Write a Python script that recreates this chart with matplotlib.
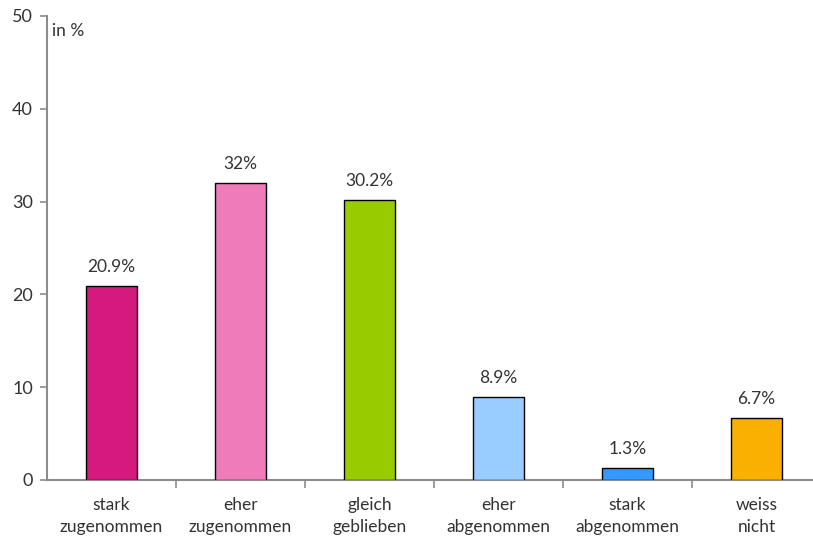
import matplotlib.pyplot as plt

categories = ['stark\nzugenommen', 'eher\nzugenommen', 'gleich\ngeblieben',
              'eher\nabgenommen', 'stark\nabgenommen', 'weiss\nnicht']
values = [20.9, 32, 30.2, 8.9, 1.3, 6.7]
labels = ['20.9%', '32%', '30.2%', '8.9%', '1.3%', '6.7%']
colors = ['#D4197F', '#F07BBB', '#99CC00', '#99CCFF', '#3399FF', '#F9B000']

plt.rcParams['font.family'] = ['Lato', 'DejaVu Sans']
grey = '#8C8C8C'
text_col = '#333333'

fig = plt.figure(figsize=(8.13, 5.38), dpi=100)
ax = fig.add_axes([47 / 813, 58 / 538, 774 / 813, 464 / 538])

x = range(len(values))
ax.bar(x, values, width=0.4, color=colors, edgecolor='black', linewidth=1, zorder=3)
for xi, v, lab in zip(x, values, labels):
    ax.text(xi, v + 1.2, lab, ha='center', va='bottom', fontsize=12.5, color=text_col)

ax.set_xlim(-0.5, len(values) - 0.5)
ax.set_ylim(0, 50)
ax.set_yticks(range(0, 51, 10))
ax.tick_params(axis='y', labelsize=13, colors=grey, labelcolor=text_col, length=5, width=1.2, pad=5)

# x ticks sit on the category boundaries, labels at the centres
ax.set_xticks([i + 0.5 for i in range(len(values) - 1)])
ax.set_xticklabels([])
ax.set_xticks(list(x), minor=True)
ax.set_xticklabels(categories, minor=True, fontsize=12.5, color=text_col, linespacing=1.45)
ax.tick_params(axis='x', which='major', length=6, width=1.2, colors=grey)
ax.tick_params(axis='x', which='minor', length=0, pad=12)

for side in ['top', 'right']:
    ax.spines[side].set_visible(False)
for side in ['left', 'bottom']:
    ax.spines[side].set_color(grey)
    ax.spines[side].set_linewidth(1.5)

ax.text(0.006, 0.985, 'in %', transform=ax.transAxes, ha='left', va='top',
        fontsize=12.5, color=text_col)

fig.savefig('out.png', dpi=100)
